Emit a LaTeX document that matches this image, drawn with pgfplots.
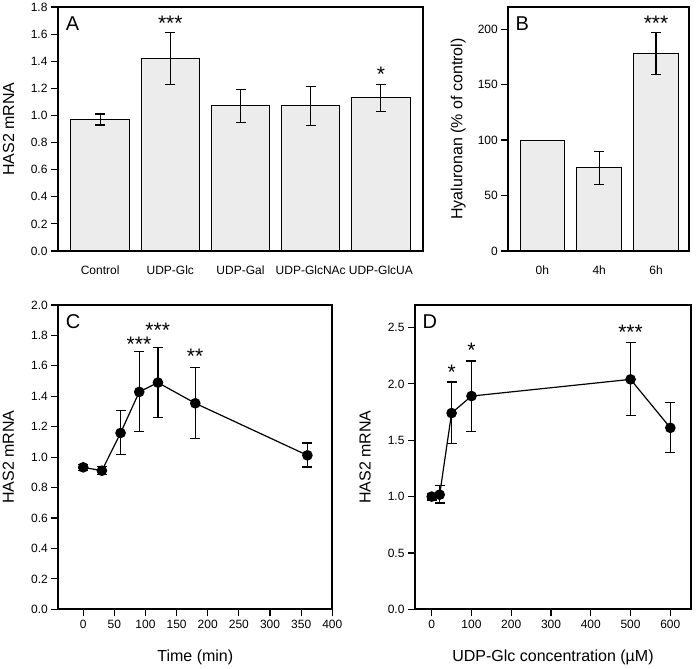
\documentclass[border=0pt]{standalone}
\usepackage{fontspec}
\setmainfont{Liberation Sans}
\usepackage{pgfplots}
\pgfplotsset{compat=1.18}
\begin{document}
\begin{tikzpicture}
\useasboundingbox (0pt,0pt) rectangle (700pt,668pt);
\pgfplotsset{
  panel/.style={
    scale only axis,
    anchor=south west,
    axis line style={line width=1.8pt},
    tick style={line width=1.2pt, black},
    major tick length=7pt,
    tick align=outside,
    xtick pos=bottom, ytick pos=left,
    ticklabel style={font=\fontsize{12}{14}\selectfont},
    label style={font=\fontsize{16}{19}\selectfont},
    /pgf/number format/assume math mode=true,
  },
  ebar/.style={error bars/.cd, y dir=both, y explicit,
    error bar style={line width=1.2pt, black},
    error mark options={rotate=90, line width=1.2pt, mark size=5pt, black}},
}
\tikzset{
  star/.style={font=\fontsize{21}{24}\selectfont, anchor=north, inner sep=0pt},
  letter/.style={font=\fontsize{20}{24}\selectfont, anchor=center, inner sep=0pt},
}
% ---------- Panel A ----------
\begin{axis}[panel, at={(58pt,417pt)}, width=365pt, height=244pt,
  xmin=-0.6, xmax=4.6, ymin=0, ymax=1.8,
  ytick={0,0.2,0.4,0.6,0.8,1.0,1.2,1.4,1.6,1.8},
  yticklabel style={/pgf/number format/.cd, fixed, fixed zerofill, precision=1},
  xtick={0,1,2,3,4},
  xticklabels={Control,UDP-Glc,UDP-Gal,UDP-GlcNAc,UDP-GlcUA},
  x tick style={draw=none},
  xticklabel style={yshift=-4pt},
  ylabel={HAS2 mRNA},
  ylabel style={at={(axis description cs:-0.135,0.5)}, anchor=center},
  ybar, bar width=0.83, bar shift=0pt,
]
\addplot[fill=gray!15, draw=black, line width=1pt, ebar] coordinates {
  (0,0.97) +- (0,0.04)
  (1,1.42) +- (0,0.19)
  (2,1.07) +- (0,0.12)
  (3,1.07) +- (0,0.145)
  (4,1.13) +- (0,0.10)
};
\node[letter] at (rel axis cs:0.04,0.93) {A};
\node[star] at (axis cs:1,1.736) {***};
\node[star] at (axis cs:4,1.36) {*};
\end{axis}
% ---------- Panel B ----------
\begin{axis}[panel, at={(508.3pt,417pt)}, width=180.7pt, height=244pt,
  xmin=-0.6, xmax=2.58, ymin=0, ymax=220,
  ytick={0,50,100,150,200},
  xtick={0,1,2}, xticklabels={0h,4h,6h},
  x tick style={draw=none},
  xticklabel style={yshift=-4pt},
  ylabel={Hyaluronan (\% of control)},
  ylabel style={at={(axis description cs:-0.277,0.5)}, anchor=center},
  ybar, bar width=0.785, bar shift=0pt,
]
\addplot[fill=gray!15, draw=black, line width=1pt] coordinates {(0,100)};
\addplot[fill=gray!15, draw=black, line width=1pt, ebar] coordinates {
  (1,75) +- (0,15)
  (2,178) +- (0,19)
};
\node[letter] at (rel axis cs:0.077,0.93) {B};
\node[star] at (axis cs:2,212.3) {***};
\end{axis}
% ---------- Panel C ----------
\begin{axis}[panel, at={(58.3pt,58.7pt)}, width=274pt, height=304.3pt,
  xmin=-40, xmax=400, ymin=0, ymax=2.0,
  xtick={0,50,100,150,200,250,300,350,400},
  ytick={0,0.2,0.4,0.6,0.8,1.0,1.2,1.4,1.6,1.8,2.0},
  yticklabel style={/pgf/number format/.cd, fixed, fixed zerofill, precision=1},
  xlabel={Time (min)},
  xlabel style={at={(axis description cs:0.5,-0.159)}, anchor=center},
  ylabel={HAS2 mRNA},
  ylabel style={at={(axis description cs:-0.182,0.5)}, anchor=center},
]
\addplot[black, line width=1.2pt, mark=*, mark size=4.7pt, mark options={fill=black, solid}, ebar] coordinates {
  (0,0.933) +- (0,0.02)
  (30,0.911) +- (0,0.025)
  (60,1.159) += (0,0.145) -= (0,0.143)
  (90,1.429) += (0,0.265) -= (0,0.263)
  (120,1.490) += (0,0.233) -= (0,0.230)
  (180,1.354) += (0,0.237) -= (0,0.230)
  (360,1.012) += (0,0.081) -= (0,0.077)
};
\node[letter] at (rel axis cs:0.054,0.944) {C};
\node[star] at (axis cs:89.5,1.791) {***};
\node[star] at (axis cs:119.6,1.883) {***};
\node[star] at (axis cs:179.6,1.712) {**};
\end{axis}
% ---------- Panel D ----------
\begin{axis}[panel, at={(415pt,58.7pt)}, width=276pt, height=304.3pt,
  xmin=-42, xmax=652, ymin=0, ymax=2.7,
  xtick={0,100,200,300,400,500,600},
  ytick={0,0.5,1.0,1.5,2.0,2.5},
  yticklabel style={/pgf/number format/.cd, fixed, fixed zerofill, precision=1},
  xlabel={UDP-Glc concentration (µM)},
  xlabel style={at={(axis description cs:0.5,-0.159)}, anchor=center},
  ylabel={HAS2 mRNA},
  ylabel style={at={(axis description cs:-0.181,0.5)}, anchor=center},
]
\addplot[black, line width=1.2pt, mark=*, mark size=4.7pt, mark options={fill=black, solid}, ebar] coordinates {
  (0,1.0) +- (0,0.03)
  (20,1.017) += (0,0.08) -= (0,0.074)
  (50,1.741) += (0,0.276) -= (0,0.27)
  (100,1.892) += (0,0.311) -= (0,0.311)
  (500,2.04) += (0,0.327) -= (0,0.32)
  (600,1.61) += (0,0.223) -= (0,0.219)
};
\node[letter] at (rel axis cs:0.054,0.944) {D};
\node[star] at (axis cs:50,2.168) {*};
\node[star] at (axis cs:100,2.361) {*};
\node[star] at (axis cs:500,2.524) {***};
\end{axis}
\end{tikzpicture}
\end{document}
